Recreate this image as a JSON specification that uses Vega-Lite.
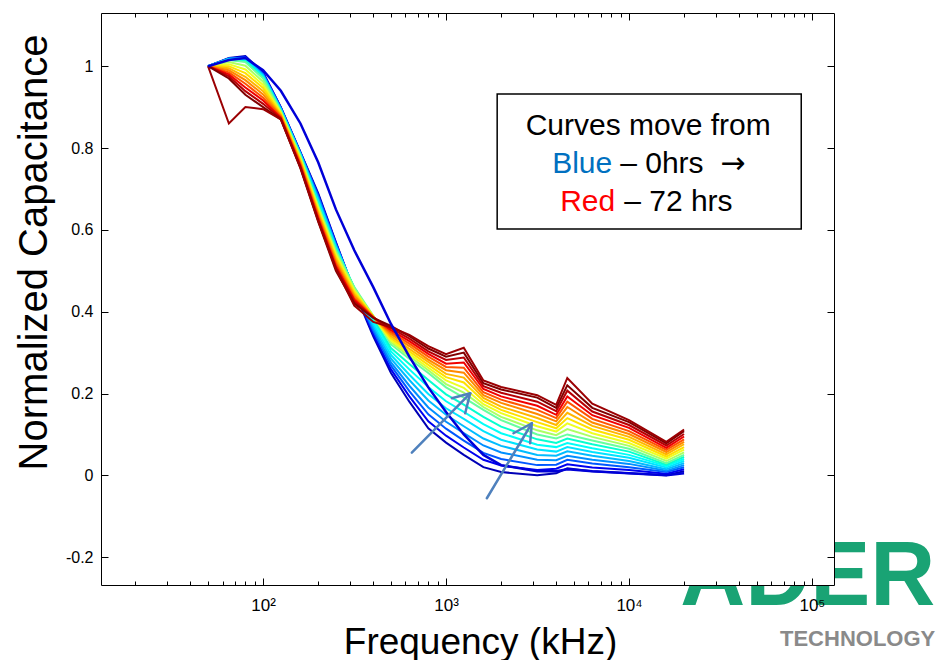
{
"$schema": "https://vega.github.io/schema/vega-lite/v6.json",
"width": 733, "height": 572,
"autosize": "none",
"padding": {"left": 101, "top": 13, "right": 111, "bottom": 75},
"background": "white",
"config": {"view": {"stroke": null}, "axis": {"labelFont": "Liberation Sans", "titleFont": "Liberation Sans", "zindex": 1, "grid": false, "domainColor": "black", "domainWidth": 1, "tickColor": "black", "tickWidth": 1, "labelColor": "black", "titleColor": "black", "titleFontWeight": "normal", "labelOverlap": false, "labelFlush": false}, "text": {"font": "Liberation Sans"}},
"datasets": {"curves": [
{"h":4,"f":50,"c":1},{"h":4,"f":65,"c":1.02},{"h":4,"f":80,"c":1.025},{"h":4,"f":100,"c":0.985},{"h":4,"f":125,"c":0.9},{"h":4,"f":160,"c":0.79},{"h":4,"f":200,"c":0.69},{"h":4,"f":250,"c":0.57},{"h":4,"f":315,"c":0.45},{"h":4,"f":400,"c":0.34},{"h":4,"f":500,"c":0.25},{"h":4,"f":630,"c":0.18},{"h":4,"f":800,"c":0.115},{"h":4,"f":1000,"c":0.08},{"h":4,"f":1250,"c":0.05},{"h":4,"f":1600,"c":0.02},{"h":4,"f":2000,"c":0.008},{"h":4,"f":3150,"c":0},{"h":4,"f":4000,"c":0.005},{"h":4,"f":4600,"c":0.017},{"h":4,"f":6300,"c":0.01},{"h":4,"f":10000,"c":0.005},{"h":4,"f":16000,"c":0},{"h":4,"f":20000,"c":0.01},
{"h":8,"f":50,"c":1},{"h":8,"f":65,"c":1.019},{"h":8,"f":80,"c":1.023},{"h":8,"f":100,"c":0.983},{"h":8,"f":125,"c":0.899},{"h":8,"f":160,"c":0.789},{"h":8,"f":200,"c":0.686},{"h":8,"f":250,"c":0.568},{"h":8,"f":315,"c":0.451},{"h":8,"f":400,"c":0.346},{"h":8,"f":500,"c":0.259},{"h":8,"f":630,"c":0.193},{"h":8,"f":800,"c":0.132},{"h":8,"f":1000,"c":0.097},{"h":8,"f":1250,"c":0.068},{"h":8,"f":1600,"c":0.038},{"h":8,"f":2000,"c":0.024},{"h":8,"f":3150,"c":0.013},{"h":8,"f":4000,"c":0.016},{"h":8,"f":4600,"c":0.027},{"h":8,"f":6300,"c":0.019},{"h":8,"f":10000,"c":0.013},{"h":8,"f":16000,"c":0.004},{"h":8,"f":20000,"c":0.015},
{"h":12,"f":50,"c":1},{"h":12,"f":65,"c":1.019},{"h":12,"f":80,"c":1.021},{"h":12,"f":100,"c":0.981},{"h":12,"f":125,"c":0.898},{"h":12,"f":160,"c":0.788},{"h":12,"f":200,"c":0.683},{"h":12,"f":250,"c":0.565},{"h":12,"f":315,"c":0.453},{"h":12,"f":400,"c":0.353},{"h":12,"f":500,"c":0.268},{"h":12,"f":630,"c":0.206},{"h":12,"f":800,"c":0.149},{"h":12,"f":1000,"c":0.114},{"h":12,"f":1250,"c":0.085},{"h":12,"f":1600,"c":0.055},{"h":12,"f":2000,"c":0.04},{"h":12,"f":3150,"c":0.025},{"h":12,"f":4000,"c":0.026},{"h":12,"f":4600,"c":0.038},{"h":12,"f":6300,"c":0.029},{"h":12,"f":10000,"c":0.02},{"h":12,"f":16000,"c":0.008},{"h":12,"f":20000,"c":0.02},
{"h":16,"f":50,"c":1},{"h":16,"f":65,"c":1.018},{"h":16,"f":80,"c":1.019},{"h":16,"f":100,"c":0.979},{"h":16,"f":125,"c":0.896},{"h":16,"f":160,"c":0.786},{"h":16,"f":200,"c":0.679},{"h":16,"f":250,"c":0.563},{"h":16,"f":315,"c":0.454},{"h":16,"f":400,"c":0.359},{"h":16,"f":500,"c":0.276},{"h":16,"f":630,"c":0.219},{"h":16,"f":800,"c":0.166},{"h":16,"f":1000,"c":0.131},{"h":16,"f":1250,"c":0.103},{"h":16,"f":1600,"c":0.073},{"h":16,"f":2000,"c":0.056},{"h":16,"f":3150,"c":0.038},{"h":16,"f":4000,"c":0.037},{"h":16,"f":4600,"c":0.048},{"h":16,"f":6300,"c":0.038},{"h":16,"f":10000,"c":0.028},{"h":16,"f":16000,"c":0.011},{"h":16,"f":20000,"c":0.025},
{"h":20,"f":50,"c":1},{"h":20,"f":65,"c":1.018},{"h":20,"f":80,"c":1.018},{"h":20,"f":100,"c":0.978},{"h":20,"f":125,"c":0.895},{"h":20,"f":160,"c":0.785},{"h":20,"f":200,"c":0.675},{"h":20,"f":250,"c":0.56},{"h":20,"f":315,"c":0.455},{"h":20,"f":400,"c":0.365},{"h":20,"f":500,"c":0.285},{"h":20,"f":630,"c":0.233},{"h":20,"f":800,"c":0.183},{"h":20,"f":1000,"c":0.148},{"h":20,"f":1250,"c":0.12},{"h":20,"f":1600,"c":0.09},{"h":20,"f":2000,"c":0.072},{"h":20,"f":3150,"c":0.05},{"h":20,"f":4000,"c":0.048},{"h":20,"f":4600,"c":0.059},{"h":20,"f":6300,"c":0.048},{"h":20,"f":10000,"c":0.035},{"h":20,"f":16000,"c":0.015},{"h":20,"f":20000,"c":0.03},
{"h":24,"f":50,"c":1},{"h":24,"f":65,"c":1.017},{"h":24,"f":80,"c":1.016},{"h":24,"f":100,"c":0.976},{"h":24,"f":125,"c":0.894},{"h":24,"f":160,"c":0.784},{"h":24,"f":200,"c":0.671},{"h":24,"f":250,"c":0.558},{"h":24,"f":315,"c":0.456},{"h":24,"f":400,"c":0.371},{"h":24,"f":500,"c":0.294},{"h":24,"f":630,"c":0.246},{"h":24,"f":800,"c":0.199},{"h":24,"f":1000,"c":0.164},{"h":24,"f":1250,"c":0.138},{"h":24,"f":1600,"c":0.108},{"h":24,"f":2000,"c":0.087},{"h":24,"f":3150,"c":0.063},{"h":24,"f":4000,"c":0.058},{"h":24,"f":4600,"c":0.069},{"h":24,"f":6300,"c":0.057},{"h":24,"f":10000,"c":0.043},{"h":24,"f":16000,"c":0.019},{"h":24,"f":20000,"c":0.035},
{"h":28,"f":50,"c":1},{"h":28,"f":65,"c":1.016},{"h":28,"f":80,"c":1.014},{"h":28,"f":100,"c":0.974},{"h":28,"f":125,"c":0.893},{"h":28,"f":160,"c":0.783},{"h":28,"f":200,"c":0.668},{"h":28,"f":250,"c":0.555},{"h":28,"f":315,"c":0.458},{"h":28,"f":400,"c":0.378},{"h":28,"f":500,"c":0.303},{"h":28,"f":630,"c":0.259},{"h":28,"f":800,"c":0.216},{"h":28,"f":1000,"c":0.181},{"h":28,"f":1250,"c":0.155},{"h":28,"f":1600,"c":0.125},{"h":28,"f":2000,"c":0.103},{"h":28,"f":3150,"c":0.075},{"h":28,"f":4000,"c":0.069},{"h":28,"f":4600,"c":0.079},{"h":28,"f":6300,"c":0.066},{"h":28,"f":10000,"c":0.05},{"h":28,"f":16000,"c":0.023},{"h":28,"f":20000,"c":0.04},
{"h":32,"f":50,"c":1},{"h":32,"f":65,"c":1.016},{"h":32,"f":80,"c":1.012},{"h":32,"f":100,"c":0.972},{"h":32,"f":125,"c":0.891},{"h":32,"f":160,"c":0.781},{"h":32,"f":200,"c":0.664},{"h":32,"f":250,"c":0.553},{"h":32,"f":315,"c":0.459},{"h":32,"f":400,"c":0.384},{"h":32,"f":500,"c":0.311},{"h":32,"f":630,"c":0.272},{"h":32,"f":800,"c":0.233},{"h":32,"f":1000,"c":0.198},{"h":32,"f":1250,"c":0.173},{"h":32,"f":1600,"c":0.143},{"h":32,"f":2000,"c":0.119},{"h":32,"f":3150,"c":0.088},{"h":32,"f":4000,"c":0.079},{"h":32,"f":4600,"c":0.09},{"h":32,"f":6300,"c":0.076},{"h":32,"f":10000,"c":0.058},{"h":32,"f":16000,"c":0.026},{"h":32,"f":20000,"c":0.045},
{"h":36,"f":50,"c":1},{"h":36,"f":65,"c":1.015},{"h":36,"f":80,"c":1.01},{"h":36,"f":100,"c":0.97},{"h":36,"f":125,"c":0.89},{"h":36,"f":160,"c":0.78},{"h":36,"f":200,"c":0.66},{"h":36,"f":250,"c":0.55},{"h":36,"f":315,"c":0.46},{"h":36,"f":400,"c":0.39},{"h":36,"f":500,"c":0.32},{"h":36,"f":630,"c":0.285},{"h":36,"f":800,"c":0.25},{"h":36,"f":1000,"c":0.215},{"h":36,"f":1250,"c":0.19},{"h":36,"f":1600,"c":0.16},{"h":36,"f":2000,"c":0.135},{"h":36,"f":3150,"c":0.1},{"h":36,"f":4000,"c":0.09},{"h":36,"f":4600,"c":0.1},{"h":36,"f":6300,"c":0.085},{"h":36,"f":10000,"c":0.065},{"h":36,"f":16000,"c":0.03},{"h":36,"f":20000,"c":0.05},
{"h":40,"f":50,"c":1},{"h":40,"f":65,"c":1.01},{"h":40,"f":80,"c":1.001},{"h":40,"f":100,"c":0.962},{"h":40,"f":125,"c":0.888},{"h":40,"f":160,"c":0.777},{"h":40,"f":200,"c":0.656},{"h":40,"f":250,"c":0.544},{"h":40,"f":315,"c":0.456},{"h":40,"f":400,"c":0.389},{"h":40,"f":500,"c":0.325},{"h":40,"f":630,"c":0.291},{"h":40,"f":800,"c":0.257},{"h":40,"f":1000,"c":0.223},{"h":40,"f":1250,"c":0.202},{"h":40,"f":1600,"c":0.167},{"h":40,"f":2000,"c":0.143},{"h":40,"f":3150,"c":0.11},{"h":40,"f":4000,"c":0.098},{"h":40,"f":4600,"c":0.113},{"h":40,"f":6300,"c":0.094},{"h":40,"f":10000,"c":0.072},{"h":40,"f":16000,"c":0.035},{"h":40,"f":20000,"c":0.056},
{"h":44,"f":50,"c":1},{"h":44,"f":65,"c":1.005},{"h":44,"f":80,"c":0.992},{"h":44,"f":100,"c":0.954},{"h":44,"f":125,"c":0.886},{"h":44,"f":160,"c":0.773},{"h":44,"f":200,"c":0.651},{"h":44,"f":250,"c":0.539},{"h":44,"f":315,"c":0.451},{"h":44,"f":400,"c":0.389},{"h":44,"f":500,"c":0.33},{"h":44,"f":630,"c":0.297},{"h":44,"f":800,"c":0.263},{"h":44,"f":1000,"c":0.232},{"h":44,"f":1250,"c":0.214},{"h":44,"f":1600,"c":0.174},{"h":44,"f":2000,"c":0.152},{"h":44,"f":3150,"c":0.12},{"h":44,"f":4000,"c":0.107},{"h":44,"f":4600,"c":0.127},{"h":44,"f":6300,"c":0.103},{"h":44,"f":10000,"c":0.079},{"h":44,"f":16000,"c":0.041},{"h":44,"f":20000,"c":0.063},
{"h":48,"f":50,"c":1},{"h":48,"f":65,"c":1.0},{"h":48,"f":80,"c":0.983},{"h":48,"f":100,"c":0.947},{"h":48,"f":125,"c":0.883},{"h":48,"f":160,"c":0.77},{"h":48,"f":200,"c":0.647},{"h":48,"f":250,"c":0.533},{"h":48,"f":315,"c":0.447},{"h":48,"f":400,"c":0.388},{"h":48,"f":500,"c":0.335},{"h":48,"f":630,"c":0.303},{"h":48,"f":800,"c":0.27},{"h":48,"f":1000,"c":0.24},{"h":48,"f":1250,"c":0.227},{"h":48,"f":1600,"c":0.182},{"h":48,"f":2000,"c":0.16},{"h":48,"f":3150,"c":0.13},{"h":48,"f":4000,"c":0.115},{"h":48,"f":4600,"c":0.14},{"h":48,"f":6300,"c":0.112},{"h":48,"f":10000,"c":0.087},{"h":48,"f":16000,"c":0.046},{"h":48,"f":20000,"c":0.069},
{"h":52,"f":50,"c":1},{"h":52,"f":65,"c":0.995},{"h":52,"f":80,"c":0.974},{"h":52,"f":100,"c":0.939},{"h":52,"f":125,"c":0.881},{"h":52,"f":160,"c":0.767},{"h":52,"f":200,"c":0.642},{"h":52,"f":250,"c":0.528},{"h":52,"f":315,"c":0.442},{"h":52,"f":400,"c":0.388},{"h":52,"f":500,"c":0.34},{"h":52,"f":630,"c":0.309},{"h":52,"f":800,"c":0.277},{"h":52,"f":1000,"c":0.248},{"h":52,"f":1250,"c":0.239},{"h":52,"f":1600,"c":0.189},{"h":52,"f":2000,"c":0.168},{"h":52,"f":3150,"c":0.14},{"h":52,"f":4000,"c":0.123},{"h":52,"f":4600,"c":0.153},{"h":52,"f":6300,"c":0.121},{"h":52,"f":10000,"c":0.094},{"h":52,"f":16000,"c":0.051},{"h":52,"f":20000,"c":0.076},
{"h":56,"f":50,"c":1},{"h":56,"f":65,"c":0.99},{"h":56,"f":80,"c":0.966},{"h":56,"f":100,"c":0.931},{"h":56,"f":125,"c":0.879},{"h":56,"f":160,"c":0.763},{"h":56,"f":200,"c":0.638},{"h":56,"f":250,"c":0.522},{"h":56,"f":315,"c":0.438},{"h":56,"f":400,"c":0.387},{"h":56,"f":500,"c":0.345},{"h":56,"f":630,"c":0.316},{"h":56,"f":800,"c":0.283},{"h":56,"f":1000,"c":0.257},{"h":56,"f":1250,"c":0.251},{"h":56,"f":1600,"c":0.196},{"h":56,"f":2000,"c":0.177},{"h":56,"f":3150,"c":0.15},{"h":56,"f":4000,"c":0.132},{"h":56,"f":4600,"c":0.167},{"h":56,"f":6300,"c":0.129},{"h":56,"f":10000,"c":0.101},{"h":56,"f":16000,"c":0.057},{"h":56,"f":20000,"c":0.082},
{"h":60,"f":50,"c":1},{"h":60,"f":65,"c":0.985},{"h":60,"f":80,"c":0.957},{"h":60,"f":100,"c":0.923},{"h":60,"f":125,"c":0.877},{"h":60,"f":160,"c":0.76},{"h":60,"f":200,"c":0.633},{"h":60,"f":250,"c":0.517},{"h":60,"f":315,"c":0.433},{"h":60,"f":400,"c":0.387},{"h":60,"f":500,"c":0.35},{"h":60,"f":630,"c":0.322},{"h":60,"f":800,"c":0.29},{"h":60,"f":1000,"c":0.265},{"h":60,"f":1250,"c":0.263},{"h":60,"f":1600,"c":0.203},{"h":60,"f":2000,"c":0.185},{"h":60,"f":3150,"c":0.16},{"h":60,"f":4000,"c":0.14},{"h":60,"f":4600,"c":0.18},{"h":60,"f":6300,"c":0.138},{"h":60,"f":10000,"c":0.108},{"h":60,"f":16000,"c":0.062},{"h":60,"f":20000,"c":0.088},
{"h":64,"f":50,"c":1},{"h":64,"f":65,"c":0.98},{"h":64,"f":80,"c":0.948},{"h":64,"f":100,"c":0.916},{"h":64,"f":125,"c":0.874},{"h":64,"f":160,"c":0.757},{"h":64,"f":200,"c":0.629},{"h":64,"f":250,"c":0.511},{"h":64,"f":315,"c":0.429},{"h":64,"f":400,"c":0.386},{"h":64,"f":500,"c":0.355},{"h":64,"f":630,"c":0.328},{"h":64,"f":800,"c":0.297},{"h":64,"f":1000,"c":0.273},{"h":64,"f":1250,"c":0.276},{"h":64,"f":1600,"c":0.211},{"h":64,"f":2000,"c":0.193},{"h":64,"f":3150,"c":0.17},{"h":64,"f":4000,"c":0.148},{"h":64,"f":4600,"c":0.193},{"h":64,"f":6300,"c":0.147},{"h":64,"f":10000,"c":0.116},{"h":64,"f":16000,"c":0.067},{"h":64,"f":20000,"c":0.095},
{"h":68,"f":50,"c":1},{"h":68,"f":65,"c":0.975},{"h":68,"f":80,"c":0.939},{"h":68,"f":100,"c":0.908},{"h":68,"f":125,"c":0.872},{"h":68,"f":160,"c":0.753},{"h":68,"f":200,"c":0.624},{"h":68,"f":250,"c":0.506},{"h":68,"f":315,"c":0.424},{"h":68,"f":400,"c":0.386},{"h":68,"f":500,"c":0.36},{"h":68,"f":630,"c":0.334},{"h":68,"f":800,"c":0.303},{"h":68,"f":1000,"c":0.282},{"h":68,"f":1250,"c":0.288},{"h":68,"f":1600,"c":0.218},{"h":68,"f":2000,"c":0.202},{"h":68,"f":3150,"c":0.18},{"h":68,"f":4000,"c":0.157},{"h":68,"f":4600,"c":0.207},{"h":68,"f":6300,"c":0.156},{"h":68,"f":10000,"c":0.123},{"h":68,"f":16000,"c":0.073},{"h":68,"f":20000,"c":0.101},
{"h":72,"f":50,"c":1},{"h":72,"f":65,"c":0.97},{"h":72,"f":80,"c":0.93},{"h":72,"f":100,"c":0.9},{"h":72,"f":125,"c":0.87},{"h":72,"f":160,"c":0.75},{"h":72,"f":200,"c":0.62},{"h":72,"f":250,"c":0.5},{"h":72,"f":315,"c":0.42},{"h":72,"f":400,"c":0.385},{"h":72,"f":500,"c":0.365},{"h":72,"f":630,"c":0.34},{"h":72,"f":800,"c":0.31},{"h":72,"f":1000,"c":0.29},{"h":72,"f":1250,"c":0.3},{"h":72,"f":1600,"c":0.225},{"h":72,"f":2000,"c":0.21},{"h":72,"f":3150,"c":0.19},{"h":72,"f":4000,"c":0.165},{"h":72,"f":4600,"c":0.22},{"h":72,"f":6300,"c":0.165},{"h":72,"f":10000,"c":0.13},{"h":72,"f":16000,"c":0.078},{"h":72,"f":20000,"c":0.108},
{"h":70,"f":50,"c":1},{"h":70,"f":65,"c":0.86},{"h":70,"f":80,"c":0.9},{"h":70,"f":100,"c":0.895},{"h":70,"f":125,"c":0.87},{"h":70,"f":160,"c":0.752},{"h":70,"f":200,"c":0.622},{"h":70,"f":250,"c":0.505},{"h":70,"f":315,"c":0.415},{"h":70,"f":400,"c":0.375},{"h":70,"f":500,"c":0.362},{"h":70,"f":630,"c":0.343},{"h":70,"f":800,"c":0.316},{"h":70,"f":1000,"c":0.296},{"h":70,"f":1250,"c":0.312},{"h":70,"f":1600,"c":0.232},{"h":70,"f":2000,"c":0.216},{"h":70,"f":3150,"c":0.196},{"h":70,"f":4000,"c":0.172},{"h":70,"f":4600,"c":0.238},{"h":70,"f":6300,"c":0.175},{"h":70,"f":10000,"c":0.135},{"h":70,"f":16000,"c":0.082},{"h":70,"f":20000,"c":0.112},
{"h":0,"f":50,"c":1},{"h":0,"f":65,"c":1.015},{"h":0,"f":80,"c":1.02},{"h":0,"f":100,"c":0.99},{"h":0,"f":125,"c":0.94},{"h":0,"f":160,"c":0.86},{"h":0,"f":200,"c":0.765},{"h":0,"f":250,"c":0.65},{"h":0,"f":315,"c":0.55},{"h":0,"f":400,"c":0.46},{"h":0,"f":500,"c":0.37},{"h":0,"f":630,"c":0.29},{"h":0,"f":800,"c":0.215},{"h":0,"f":1000,"c":0.155},{"h":0,"f":1250,"c":0.1},{"h":0,"f":1600,"c":0.05},{"h":0,"f":2000,"c":0.025},{"h":0,"f":3150,"c":0.01},{"h":0,"f":4000,"c":0.01},{"h":0,"f":4600,"c":0.015},{"h":0,"f":6300,"c":0.01},{"h":0,"f":10000,"c":0.005},{"h":0,"f":16000,"c":0},{"h":0,"f":20000,"c":0.005}
]},
"resolve": {"axis": {"x": "independent", "y": "independent"}},
"layer": [
{"data": {"values": [{}]}, "mark": {"type": "text", "align": "right", "baseline": "alphabetic", "fontSize": 90, "fontWeight": "bold", "color": "#19a374"},
 "encoding": {"x": {"datum": 472000, "type": "quantitative", "scale": {"type": "log", "domain": [13, 132000], "nice": false}, "axis": null}, "y": {"datum": -0.3167, "type": "quantitative", "scale": {"domain": [-0.268, 1.13], "nice": false, "zero": false}, "axis": null}, "text": {"value": "ADER"}}},
{"data": {"values": [{}]}, "mark": {"type": "text", "align": "right", "baseline": "alphabetic", "fontSize": 22, "fontWeight": "bold", "color": "#8a8a8a"},
 "encoding": {"x": {"datum": 472000, "type": "quantitative", "scale": {"type": "log", "domain": [13, 132000], "nice": false}, "axis": null}, "y": {"datum": -0.417, "type": "quantitative", "scale": {"domain": [-0.268, 1.13], "nice": false, "zero": false}, "axis": null}, "text": {"value": "TECHNOLOGY"}}},
{"data": {"values": [{}]}, "mark": {"type": "rect", "color": "white"},
 "encoding": {"x": {"datum": 13, "type": "quantitative", "scale": {"type": "log", "domain": [13, 132000], "nice": false}, "axis": null}, "x2": {"datum": 132000}, "y": {"datum": -0.268, "type": "quantitative", "scale": {"domain": [-0.268, 1.13], "nice": false, "zero": false}, "axis": null}, "y2": {"datum": 1.13}}},
{"data": {"name": "curves"}, "transform": [{"filter": "datum.h > 0"}],
 "mark": {"type": "line", "strokeWidth": 2},
 "encoding": {
  "x": {"field": "f", "type": "quantitative", "scale": {"type": "log", "domain": [13, 132000], "nice": false},
   "axis": {"orient": "bottom", "zindex": 2, "values": [20,30,40,50,60,70,80,90,100,200,300,400,500,600,700,800,900,1000,2000,3000,4000,5000,6000,7000,8000,9000,10000,20000,30000,40000,50000,60000,70000,80000,90000,100000],
    "labelExpr": "datum.value==100?'10²':datum.value==1000?'10³':datum.value==10000?'10⁴':datum.value==100000?'10⁵':''",
    "tickSize": {"condition": {"test": "indexof([100,1000,10000,100000], datum.value) >= 0", "value": -7}, "value": -4},
    "labelFontSize": 17, "labelPadding": 19, "labelBaseline": "top",
    "title": "Frequency (kHz)", "titleFontSize": 37, "titleX": 379, "titleY": 68, "titleBaseline": "alphabetic", "titleAlign": "center", "titleAnchor": "middle"}},
  "y": {"field": "c", "type": "quantitative", "scale": {"domain": [-0.268, 1.13], "nice": false, "zero": false},
   "axis": {"orient": "left", "zindex": 2, "values": [-0.2, 0, 0.2, 0.4, 0.6, 0.8, 1], "labelExpr": "'' + datum.value", "tickSize": -7, "labelFontSize": 16, "labelPadding": 15,
    "title": "Normalized Capacitance", "titleFontSize": 40, "titleX": -55, "titleY": 239, "titleAngle": -90, "titleBaseline": "alphabetic", "titleAlign": "center", "titleAnchor": "middle"}},
  "color": {"field": "h", "type": "quantitative", "scale": {"domain": [0, 9, 27, 45, 63, 72], "range": ["#000080", "#0000ff", "#00ffff", "#ffff00", "#ff0000", "#800000"]}, "legend": null},
  "detail": {"field": "h", "type": "nominal"}}},
{"data": {"name": "curves"}, "transform": [{"filter": "datum.h == 0"}],
 "mark": {"type": "line", "strokeWidth": 2.5, "color": "#0000d8"},
 "encoding": {
  "x": {"field": "f", "type": "quantitative", "scale": {"type": "log", "domain": [13, 132000], "nice": false},
   "axis": {"orient": "top", "zindex": 2, "values": [20,30,40,50,60,70,80,90,100,200,300,400,500,600,700,800,900,1000,2000,3000,4000,5000,6000,7000,8000,9000,10000,20000,30000,40000,50000,60000,70000,80000,90000,100000], "labels": false, "title": null,
    "tickSize": {"condition": {"test": "indexof([100,1000,10000,100000], datum.value) >= 0", "value": -7}, "value": -4}}},
  "y": {"field": "c", "type": "quantitative", "scale": {"domain": [-0.268, 1.13], "nice": false, "zero": false},
   "axis": {"orient": "right", "zindex": 2, "values": [-0.2, 0, 0.2, 0.4, 0.6, 0.8, 1], "labels": false, "title": null, "tickSize": -7}}}},
{"data": {"values": [{}]}, "mark": {"type": "rule", "color": "#4f81bd", "strokeWidth": 2.5, "strokeCap": "round"},
 "encoding": {"x": {"datum": 650, "type": "quantitative", "scale": {"type": "log", "domain": [13, 132000], "nice": false}, "axis": null}, "x2": {"datum": 1355}, "y": {"datum": 0.0555, "type": "quantitative", "scale": {"domain": [-0.268, 1.13], "nice": false, "zero": false}, "axis": null}, "y2": {"datum": 0.2006}}},
{"data": {"values": [{}]}, "mark": {"type": "rule", "color": "#4f81bd", "strokeWidth": 2.5, "strokeCap": "round"},
 "encoding": {"x": {"datum": 1076, "type": "quantitative", "scale": {"type": "log", "domain": [13, 132000], "nice": false}, "axis": null}, "x2": {"datum": 1355}, "y": {"datum": 0.1884, "type": "quantitative", "scale": {"domain": [-0.268, 1.13], "nice": false, "zero": false}, "axis": null}, "y2": {"datum": 0.2006}}},
{"data": {"values": [{}]}, "mark": {"type": "rule", "color": "#4f81bd", "strokeWidth": 2.5, "strokeCap": "round"},
 "encoding": {"x": {"datum": 1272, "type": "quantitative", "scale": {"type": "log", "domain": [13, 132000], "nice": false}, "axis": null}, "x2": {"datum": 1355}, "y": {"datum": 0.1518, "type": "quantitative", "scale": {"domain": [-0.268, 1.13], "nice": false, "zero": false}, "axis": null}, "y2": {"datum": 0.2006}}},
{"data": {"values": [{}]}, "mark": {"type": "rule", "color": "#4f81bd", "strokeWidth": 2.5, "strokeCap": "round"},
 "encoding": {"x": {"datum": 1671, "type": "quantitative", "scale": {"type": "log", "domain": [13, 132000], "nice": false}, "axis": null}, "x2": {"datum": 2944}, "y": {"datum": -0.056, "type": "quantitative", "scale": {"domain": [-0.268, 1.13], "nice": false, "zero": false}, "axis": null}, "y2": {"datum": 0.1273}}},
{"data": {"values": [{}]}, "mark": {"type": "rule", "color": "#4f81bd", "strokeWidth": 2.5, "strokeCap": "round"},
 "encoding": {"x": {"datum": 2336, "type": "quantitative", "scale": {"type": "log", "domain": [13, 132000], "nice": false}, "axis": null}, "x2": {"datum": 2944}, "y": {"datum": 0.1029, "type": "quantitative", "scale": {"domain": [-0.268, 1.13], "nice": false, "zero": false}, "axis": null}, "y2": {"datum": 0.1273}}},
{"data": {"values": [{}]}, "mark": {"type": "rule", "color": "#4f81bd", "strokeWidth": 2.5, "strokeCap": "round"},
 "encoding": {"x": {"datum": 2882, "type": "quantitative", "scale": {"type": "log", "domain": [13, 132000], "nice": false}, "axis": null}, "x2": {"datum": 2944}, "y": {"datum": 0.0784, "type": "quantitative", "scale": {"domain": [-0.268, 1.13], "nice": false, "zero": false}, "axis": null}, "y2": {"datum": 0.1273}}},
{"data": {"values": [{}]}, "mark": {"type": "rect", "fill": "white", "stroke": "black", "strokeWidth": 1.5},
 "encoding": {"x": {"datum": 1903, "type": "quantitative", "scale": {"type": "log", "domain": [13, 132000], "nice": false}, "axis": null}, "x2": {"datum": 87400}, "y": {"datum": 0.932, "type": "quantitative", "scale": {"domain": [-0.268, 1.13], "nice": false, "zero": false}, "axis": null}, "y2": {"datum": 0.602}}},
{"data": {"values": [{}]}, "mark": {"type": "text", "align": "center", "baseline": "alphabetic", "fontSize": 30, "color": "black"},
 "encoding": {"x": {"datum": 12735, "type": "quantitative", "scale": {"type": "log", "domain": [13, 132000], "nice": false}, "axis": null}, "y": {"datum": 0.8319, "type": "quantitative", "scale": {"domain": [-0.268, 1.13], "nice": false, "zero": false}, "axis": null}, "text": {"value": "Curves move from"}}},
{"data": {"values": [{}]}, "mark": {"type": "text", "align": "right", "baseline": "alphabetic", "fontSize": 30, "color": "#0070c0"},
 "encoding": {"x": {"datum": 8094, "type": "quantitative", "scale": {"type": "log", "domain": [13, 132000], "nice": false}, "axis": null}, "y": {"datum": 0.7397, "type": "quantitative", "scale": {"domain": [-0.268, 1.13], "nice": false, "zero": false}, "axis": null}, "text": {"value": "Blue"}}},
{"data": {"values": [{}]}, "mark": {"type": "text", "align": "left", "baseline": "alphabetic", "fontSize": 30, "color": "black"},
 "encoding": {"x": {"datum": 8952, "type": "quantitative", "scale": {"type": "log", "domain": [13, 132000], "nice": false}, "axis": null}, "y": {"datum": 0.7397, "type": "quantitative", "scale": {"domain": [-0.268, 1.13], "nice": false, "zero": false}, "axis": null}, "text": {"value": "– 0hrs"}}},
{"data": {"values": [{}]}, "mark": {"type": "text", "align": "left", "baseline": "alphabetic", "fontSize": 30, "font": "DejaVu Sans", "color": "black"},
 "encoding": {"x": {"datum": 31520, "type": "quantitative", "scale": {"type": "log", "domain": [13, 132000], "nice": false}, "axis": null}, "y": {"datum": 0.7397, "type": "quantitative", "scale": {"domain": [-0.268, 1.13], "nice": false, "zero": false}, "axis": null}, "text": {"value": "→"}}},
{"data": {"values": [{}]}, "mark": {"type": "text", "align": "right", "baseline": "alphabetic", "fontSize": 30, "color": "#ff0000"},
 "encoding": {"x": {"datum": 8404, "type": "quantitative", "scale": {"type": "log", "domain": [13, 132000], "nice": false}, "axis": null}, "y": {"datum": 0.6469, "type": "quantitative", "scale": {"domain": [-0.268, 1.13], "nice": false, "zero": false}, "axis": null}, "text": {"value": "Red"}}},
{"data": {"values": [{}]}, "mark": {"type": "text", "align": "left", "baseline": "alphabetic", "fontSize": 30, "color": "black"},
 "encoding": {"x": {"datum": 9415, "type": "quantitative", "scale": {"type": "log", "domain": [13, 132000], "nice": false}, "axis": null}, "y": {"datum": 0.6469, "type": "quantitative", "scale": {"domain": [-0.268, 1.13], "nice": false, "zero": false}, "axis": null}, "text": {"value": "– 72 hrs"}}}
]
}
